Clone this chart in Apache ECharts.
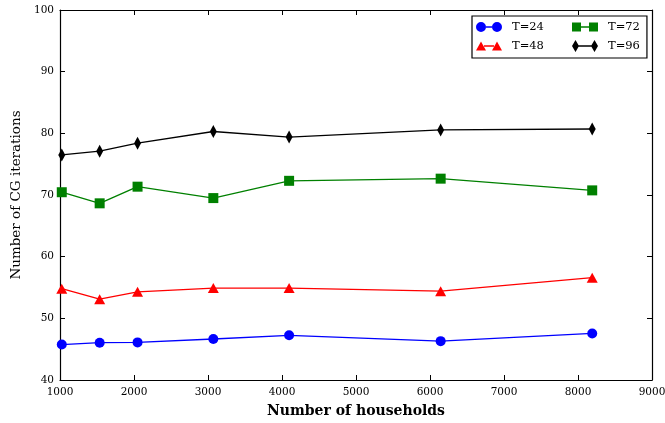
<!DOCTYPE html>
<html>
<head>
<meta charset="utf-8">
<script src="https://cdn.jsdelivr.net/npm/echarts@6/dist/echarts.min.js"></script>
<style>
html,body{margin:0;padding:0;background:#fff;}
#c{width:665px;height:423px;}
</style>
</head>
<body>
<div id="c"></div>
<script>
var households = [1024, 1536, 2048, 3072, 4096, 6144, 8192];
var t24 = [45.75, 46.05, 46.1, 46.65, 47.25, 46.3, 47.55];
var t48 = [54.8, 53.1, 54.3, 54.9, 54.9, 54.4, 56.6];
var t72 = [70.45, 68.65, 71.35, 69.5, 72.3, 72.65, 70.75];
var t96 = [76.5, 77.1, 78.4, 80.3, 79.4, 80.55, 80.7];
var xTicks = [1000, 2000, 3000, 4000, 5000, 6000, 7000, 8000, 9000];
var yTicks = [40, 50, 60, 70, 80, 90, 100];

function pairs(v) { return households.map(function (x, i) { return [x, v[i]]; }); }

var FONT = 'DejaVu Serif';
var anchor = ' M0,0 M31,12';
var icons = {
  circle: 'path://M0,6 A5,5 0 1,0 10,6 A5,5 0 1,0 0,6 Z M10,5.3 L16,5.3 L16,6.7 L10,6.7 Z M16,6 A5,5 0 1,0 26,6 A5,5 0 1,0 16,6 Z' + anchor,
  triangle: 'path://M0,10.5 L5,1.5 L10,10.5 Z M8,5.3 L18,5.3 L18,6.7 L8,6.7 Z M16,10.5 L21,1.5 L26,10.5 Z' + anchor,
  rect: 'path://M0,1.5 L9,1.5 L9,10.5 L0,10.5 Z M9,5.3 L17,5.3 L17,6.7 L9,6.7 Z M17,1.5 L26,1.5 L26,10.5 L17,10.5 Z' + anchor,
  diamond: 'path://M0,6 L3.5,0 L7,6 L3.5,12 Z M3.5,5.3 L22.5,5.3 L22.5,6.7 L3.5,6.7 Z M19,6 L22.5,0 L26,6 L22.5,12 Z' + anchor
};

var seriesDefs = [
  { name: 'T=24', data: t24, color: '#0000ff', symbol: 'circle', size: 10 },
  { name: 'T=48', data: t48, color: '#ff0000', symbol: 'triangle', size: [11, 10] },
  { name: 'T=72', data: t72, color: '#008000', symbol: 'rect', size: 10 },
  { name: 'T=96', data: t96, color: '#000000', symbol: 'diamond', size: [7, 13] }
];

function axisCommon(extra) {
  var base = {
    axisLine: { show: true, onZero: false, lineStyle: { color: '#000', width: 1.2 } },
    axisTick: { show: true, inside: true, length: 5, lineStyle: { color: '#000', width: 1 } },
    splitLine: { show: false },
    minorTick: { show: false }
  };
  for (var k in extra) base[k] = extra[k];
  return base;
}

var chart = echarts.init(document.getElementById('c'), null, { renderer: 'canvas' });
chart.setOption({
  animation: false,
  backgroundColor: '#fff',
  grid: { left: 60, right: 13, top: 10, bottom: 43, containLabel: false, outerBoundsMode: 'none' },
  xAxis: [
    axisCommon({
      type: 'value', position: 'bottom', min: xTicks[0], max: xTicks[xTicks.length - 1], interval: 1000,
      name: 'Number of households', nameLocation: 'middle', nameGap: 24,
      nameTextStyle: { fontFamily: FONT, fontSize: 14, fontWeight: 'bold', color: '#000' },
      axisLabel: { fontFamily: FONT, fontSize: 10.5, color: '#000', margin: 7, showMinLabel: true, showMaxLabel: true,
        formatter: function (v) { return String(v); } }
    }),
    axisCommon({
      type: 'value', position: 'top', min: xTicks[0], max: xTicks[xTicks.length - 1], interval: 1000,
      axisLabel: { show: false }
    })
  ],
  yAxis: [
    axisCommon({
      type: 'value', position: 'left', min: yTicks[0], max: yTicks[yTicks.length - 1], interval: 10,
      name: 'Number of CG iterations', nameLocation: 'middle', nameGap: 30, nameRotate: 90,
      nameTextStyle: { fontFamily: FONT, fontSize: 13.5, color: '#000' },
      axisLabel: { fontFamily: FONT, fontSize: 10.5, color: '#000', margin: 6, showMinLabel: true, showMaxLabel: true,
        formatter: function (v) { return String(v); } }
    }),
    axisCommon({
      type: 'value', position: 'right', min: yTicks[0], max: yTicks[yTicks.length - 1], interval: 10,
      axisLabel: { show: false }
    })
  ],
  legend: {
    left: 472, top: 16, width: 175,
    orient: 'horizontal',
    padding: [4, 7, 5, 4],
    itemGap: 5,
    itemWidth: 31, itemHeight: 12,
    borderColor: '#000', borderWidth: 1.2, borderRadius: 0,
    backgroundColor: '#fff',
    textStyle: { fontFamily: FONT, fontSize: 11.5, color: '#000', lineHeight: 14 },
    data: [
      { name: 'T=24', icon: icons.circle, textStyle: { width: 55 } },
      { name: 'T=72', icon: icons.rect },
      { name: 'T=48', icon: icons.triangle, textStyle: { width: 55 } },
      { name: 'T=96', icon: icons.diamond }
    ]
  },
  series: seriesDefs.map(function (s) {
    return {
      name: s.name, type: 'line', xAxisIndex: 0, yAxisIndex: 0,
      data: pairs(s.data),
      symbol: s.symbol, symbolSize: s.size, showSymbol: true,
      lineStyle: { color: s.color, width: 1.3 },
      itemStyle: { color: s.color, borderColor: s.color, borderWidth: 0 },
      emphasis: { disabled: true }
    };
  })
});
</script>
</body>
</html>
